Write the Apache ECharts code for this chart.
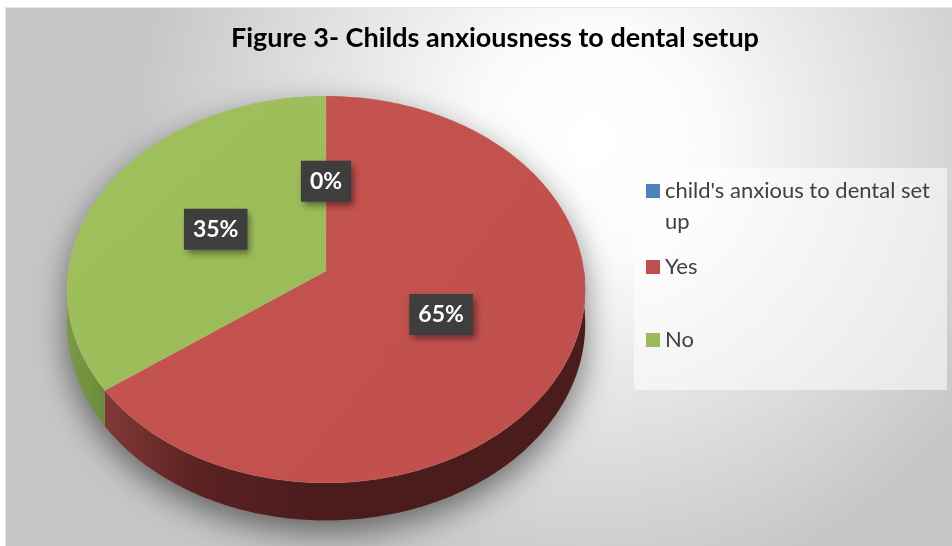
<!DOCTYPE html>
<html>
<head>
<meta charset="utf-8">
<script src="https://cdn.jsdelivr.net/npm/echarts@6/dist/echarts.min.js"></script>
<style>
html,body{margin:0;padding:0;background:#fff;}
#chart{width:952px;height:546px;}
</style>
</head>
<body>
<div id="chart"></div>
<script>
const titleText = 'Figure 3- Childs anxiousness to dental setup';
const categories = ["child's anxious to dental set up", 'Yes', 'No'];
const values = [0, 65, 35];
const colors = ['#4F81BD', '#C0504D', '#9BBB59'];

const total = values.reduce((a, b) => a + b, 0);
const starts = values.map((v, i) => values.slice(0, i).reduce((a, b) => a + b, 0));

// 3D pie geometry (perspective-tilted disc)
const G = { cx: 326, cy: 271, A: 258, B: 191.7, k: 0.0955, H: 34 };
function proj(phi, r, h) {
  const X = r * Math.sin(phi), Z = -r * Math.cos(phi);
  const d = 1 - G.k * Z;
  return [G.cx + G.A * X / d, G.cy + (G.B * Z + h) / d];
}
function arc(a0, a1, r, h) {
  const n = Math.max(2, Math.ceil(Math.abs(a1 - a0) / 0.015));
  const pts = [];
  for (let i = 0; i <= n; i++) pts.push(proj(a0 + (a1 - a0) * i / n, r, h));
  return pts;
}
const sideFills = [
  ['#3c5e8a', '#2b4466'],
  ['#803937', '#5a2121', '#4b1c1c'],
  ['#6c8a3c', '#7a9a48']
];
const topFills = [
  ['#5289c6', '#4F81BD'],
  ['#c6534f', '#c0504d'],
  ['#a0c05c', '#9bbb59']
];

function renderItem(params, api) {
  const i = params.seriesIndex;
  const s = api.value(0), v = api.value(1);
  const a0 = s / total * Math.PI * 2, a1 = (s + v) / total * Math.PI * 2;
  const children = [];
  if (i === 0) {
    const sil = arc(-Math.PI / 2, Math.PI / 2, 1, 0).concat(arc(Math.PI / 2, Math.PI * 1.5, 1, G.H));
    children.push({
      type: 'polygon', shape: { points: sil }, z2: 0,
      style: { fill: '#9a9a9a', shadowBlur: 32, shadowColor: 'rgba(0,0,0,0.5)', shadowOffsetY: 12 }
    });
  }
  if (v > 0) {
    const lo = Math.max(a0, Math.PI / 2), hi = Math.min(a1, Math.PI * 1.5);
    if (hi > lo) {
      const side = arc(lo, hi, 1, 0).concat(arc(hi, lo, 1, G.H));
      const sf = sideFills[i];
      const stops = sf.length === 3
        ? [{ offset: 0, color: sf[2] }, { offset: 0.55, color: sf[2] }, { offset: 0.8, color: sf[1] }, { offset: 1, color: sf[0] }]
        : [{ offset: 0, color: sf[0] }, { offset: 1, color: sf[1] }];
      children.push({
        type: 'polygon', shape: { points: side }, z2: 5,
        style: { fill: new echarts.graphic.LinearGradient(1, 0, 0, 0, stops) }
      });
    }
    const top = [proj(0, 0, 0)].concat(arc(a0, a1, 1, 0));
    const tf = topFills[i];
    children.push({
      type: 'polygon', shape: { points: top }, z2: 10,
      style: {
        fill: new echarts.graphic.LinearGradient(0, 0, 1, 1, [{ offset: 0, color: tf[0] }, { offset: 1, color: tf[1] }]),
        stroke: 'rgba(255,255,255,0.15)', lineWidth: 0.5
      }
    });
  }
  const mid = (a0 + a1) / 2;
  const lp = proj(mid, 0.49, 0);
  children.push({
    type: 'text', z2: 100,
    x: lp[0], y: lp[1],
    style: {
      text: Math.round(v / total * 100) + '%',
      fill: '#ffffff',
      font: 'bold 23px Lato',
      align: 'center', verticalAlign: 'middle',
      backgroundColor: '#3e3e3e',
      padding: [10, 9, 8, 9],
      shadowBlur: 7, shadowOffsetX: 3, shadowOffsetY: 4, shadowColor: 'rgba(0,0,0,0.45)'
    }
  });
  return { type: 'group', children: children };
}

const series = categories.map((name, i) => ({
  type: 'custom',
  name: name,
  coordinateSystem: 'none',
  renderItem: renderItem,
  itemStyle: { color: colors[i] },
  data: [[starts[i], values[i]]]
}));

// title placement: centre the title text at x = 495
const titleFont = { fontFamily: 'Lato', fontWeight: 'bold', fontSize: 27 };
const mctx = document.createElement('canvas').getContext('2d');
mctx.font = 'bold 27px Lato';
const titleW = mctx.measureText(titleText).width;

const legendText = { color: '#404040', fontSize: 22, fontFamily: 'Lato', lineHeight: 31 };
const chart = echarts.init(document.getElementById('chart'), null, { renderer: 'canvas' });
chart.setOption({
  animation: false,
  backgroundColor: '#ffffff',
  title: {
    text: titleText,
    left: Math.round(495 - titleW / 2), top: 25, padding: 0,
    textStyle: Object.assign({ color: '#000000' }, titleFont)
  },
  graphic: [
    {
      type: 'rect', z: -20, left: 5, top: 7,
      shape: { width: 947, height: 539 },
      style: {
        fill: { type: 'radial', x: 0.62, y: 0.25, r: 0.85, colorStops: [
          { offset: 0, color: '#ffffff' }, { offset: 0.25, color: '#fbfbfb' }, { offset: 1, color: '#c6c6c6' }] },
        stroke: '#e6e6e6', lineWidth: 1
      }
    },
    {
      type: 'rect', z: -10, left: 634, top: 168,
      shape: { width: 313, height: 222 },
      style: { fill: 'rgba(255,255,255,0.55)' }
    }
  ],
  legend: [
    {
      data: [categories[0]],
      orient: 'vertical', left: 646, top: 144.5, padding: 0,
      icon: 'rect', itemWidth: 14, itemHeight: 14, itemGap: 0,
      formatter: () => "\nchild's anxious to dental set\nup",
      textStyle: legendText
    },
    {
      data: [categories[1], categories[2]],
      orient: 'vertical', left: 646, top: 251.5, itemGap: 42, padding: 0,
      icon: 'rect', itemWidth: 14, itemHeight: 14,
      textStyle: legendText
    }
  ],
  series: series
});
</script>
</body>
</html>
